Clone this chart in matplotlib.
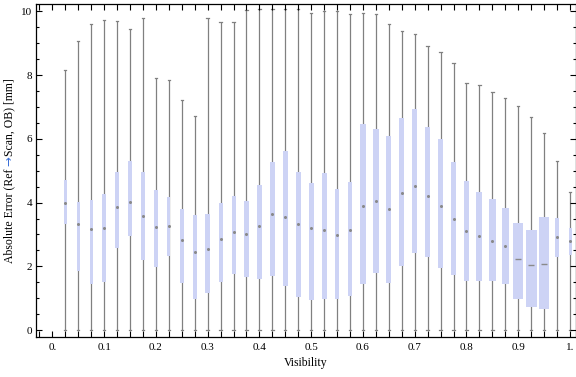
import numpy as np
import matplotlib
matplotlib.use("Agg")
import matplotlib.pyplot as plt
from matplotlib.patches import Rectangle
from matplotlib.ticker import FixedLocator, MultipleLocator

# visibility bins (box centres)
visibility = [0.025, 0.05, 0.075, 0.1, 0.125, 0.15, 0.175, 0.2, 0.225, 0.25,
              0.275, 0.3, 0.325, 0.35, 0.375, 0.4, 0.425, 0.45, 0.475, 0.5,
              0.525, 0.55, 0.575, 0.6, 0.625, 0.65, 0.675, 0.7, 0.725, 0.75,
              0.775, 0.8, 0.825, 0.85, 0.875, 0.9, 0.925, 0.95, 0.975, 1.0]

whisk_hi = [8.17, 9.08, 9.61, 9.74, 9.71, 9.45, 9.80, 7.92, 7.86, 7.23,
            6.73, 9.80, 9.67, 9.67, 10.05, 10.08, 10.08, 10.08, 10.08, 9.96,
            10.02, 10.02, 9.93, 9.96, 9.93, 9.61, 9.39, 9.30, 8.92, 8.73,
            8.39, 7.76, 7.70, 7.48, 7.29, 7.04, 6.70, 6.17, 5.32, 4.32]
whisk_lo = [0.0] * 40
q3 = [4.70, 4.01, 4.07, 4.28, 4.97, 5.32, 4.97, 4.39, 4.17, 3.79,
      3.60, 3.64, 4.00, 4.20, 4.04, 4.54, 5.29, 5.61, 4.97, 4.61,
      4.94, 4.42, 4.64, 6.46, 6.30, 6.08, 6.65, 6.93, 6.36, 5.99,
      5.27, 4.67, 4.33, 4.11, 3.82, 3.35, 3.13, 3.54, 3.51, 3.20]
median = [3.99, 3.32, 3.16, 3.19, 3.85, 4.02, 3.58, 3.23, 3.25, 2.82,
          2.44, 2.55, 2.86, 3.08, 3.03, 3.28, 3.64, 3.56, 3.34, 3.20,
          3.14, 2.97, 3.13, 3.88, 4.05, 3.81, 4.30, 4.52, 4.20, 3.90,
          3.48, 3.10, 2.94, 2.81, 2.64, 2.23, 2.03, 2.06, 2.91, 2.81]
q1 = [3.34, 1.86, 1.45, 1.51, 2.58, 2.96, 2.19, 1.97, 2.32, 1.47,
      0.98, 1.17, 1.51, 1.76, 1.66, 1.60, 1.70, 1.39, 1.03, 0.95,
      0.98, 0.98, 1.07, 1.45, 1.80, 1.48, 2.01, 2.42, 2.30, 1.95,
      1.73, 1.53, 1.55, 1.55, 1.45, 0.98, 0.73, 0.67, 2.30, 2.36]
# box widths (visibility units) as drawn in the chart
box_width = [0.0064, 0.0064, 0.0064, 0.0064, 0.0091, 0.0083, 0.0064, 0.0064, 0.0064, 0.0077,
             0.0072, 0.0083, 0.0077, 0.0077, 0.0091, 0.0091, 0.0091, 0.0091, 0.0097, 0.0091,
             0.0097, 0.0091, 0.0091, 0.0116, 0.0116, 0.0091, 0.0097, 0.0097, 0.0091, 0.0091,
             0.0097, 0.0091, 0.0116, 0.0130, 0.0130, 0.0200, 0.0207, 0.0180, 0.0083, 0.0058]

x_ticks = [0.0, 0.1, 0.2, 0.3, 0.4, 0.5, 0.6, 0.7, 0.8, 0.9, 1.0]
x_ticklabels = ["0.", "0.1", "0.2", "0.3", "0.4", "0.5", "0.6", "0.7", "0.8", "0.9", "1."]
y_ticks = [0, 2, 4, 6, 8, 10]

plt.rcParams['font.family'] = ['Liberation Serif', 'DejaVu Serif']
plt.rcParams['font.size'] = 8

fig = plt.figure(figsize=(5.76, 3.77), dpi=100)
ax = fig.add_axes([0.063, 0.106, 0.9365, 0.883])

whisker_color = '#808080'
box_color = '#cdd3f5'
cap = 0.0045

for x, lo, hi, a, m, b, w in zip(visibility, whisk_lo, whisk_hi, q1, median, q3, box_width):
    ax.plot([x, x], [lo, hi], color=whisker_color, lw=0.9, solid_capstyle='butt', zorder=1)
    ax.plot([x - cap / 2, x + cap / 2], [hi, hi], color=whisker_color, lw=0.9, zorder=1)
    ax.plot([x - cap / 2, x + cap / 2], [lo, lo], color=whisker_color, lw=0.9, zorder=1)
    ax.add_patch(Rectangle((x - w / 2, a), w, b - a, facecolor=box_color, edgecolor='none', zorder=2))
    if w > 0.015:
        ax.plot([x], [m], marker='_', ms=4.5, mew=1.0, color='#8a8a8a', zorder=3)
    else:
        ax.plot([x], [m], marker='o', ms=2.2, mew=0, color='#8a8a8a', zorder=3)

ax.set_xlim(-0.031, 1.011)
ax.set_ylim(-0.22, 10.23)

ax.xaxis.set_major_locator(FixedLocator(x_ticks))
ax.set_xticklabels(x_ticklabels)
ax.xaxis.set_minor_locator(MultipleLocator(0.025))
ax.yaxis.set_major_locator(FixedLocator(y_ticks))
ax.yaxis.set_minor_locator(MultipleLocator(0.5))
ax.tick_params(which='both', direction='in', top=True, right=True, width=0.8, pad=4)
ax.tick_params(axis='x', which='both', length=4)
ax.tick_params(axis='y', which='major', length=4, pad=3)
ax.tick_params(axis='y', which='minor', length=2.5)
for s in ax.spines.values():
    s.set_linewidth(0.9)

ax.set_xlabel('Visibility', fontsize=8.5, labelpad=4)

# y label with a blue arrow, assembled from three pieces on one baseline
renderer = fig.canvas.get_renderer()
parts = [('Absolute Error (Ref ', 'black', 'Liberation Serif'),
         ('\u2192', '#3a6fd8', 'DejaVu Sans'),
         ('Scan, OB) [mm]', 'black', 'Liberation Serif')]
lengths = []
for s, c, fam in parts:
    t = fig.text(0, 0, s, fontsize=8.5, family=fam)
    lengths.append(t.get_window_extent(renderer).width)
    t.remove()
W, H = fig.get_size_inches() * fig.dpi
x_px = 12.5
y_px = (H - 170.5) - sum(lengths) / 2
for (s, c, fam), L in zip(parts, lengths):
    fig.text(x_px / W, y_px / H, s, fontsize=8.5, color=c, family=fam, rotation=90,
             rotation_mode='anchor', ha='left', va='baseline')
    y_px += L

plt.savefig('out.png', dpi=100)
